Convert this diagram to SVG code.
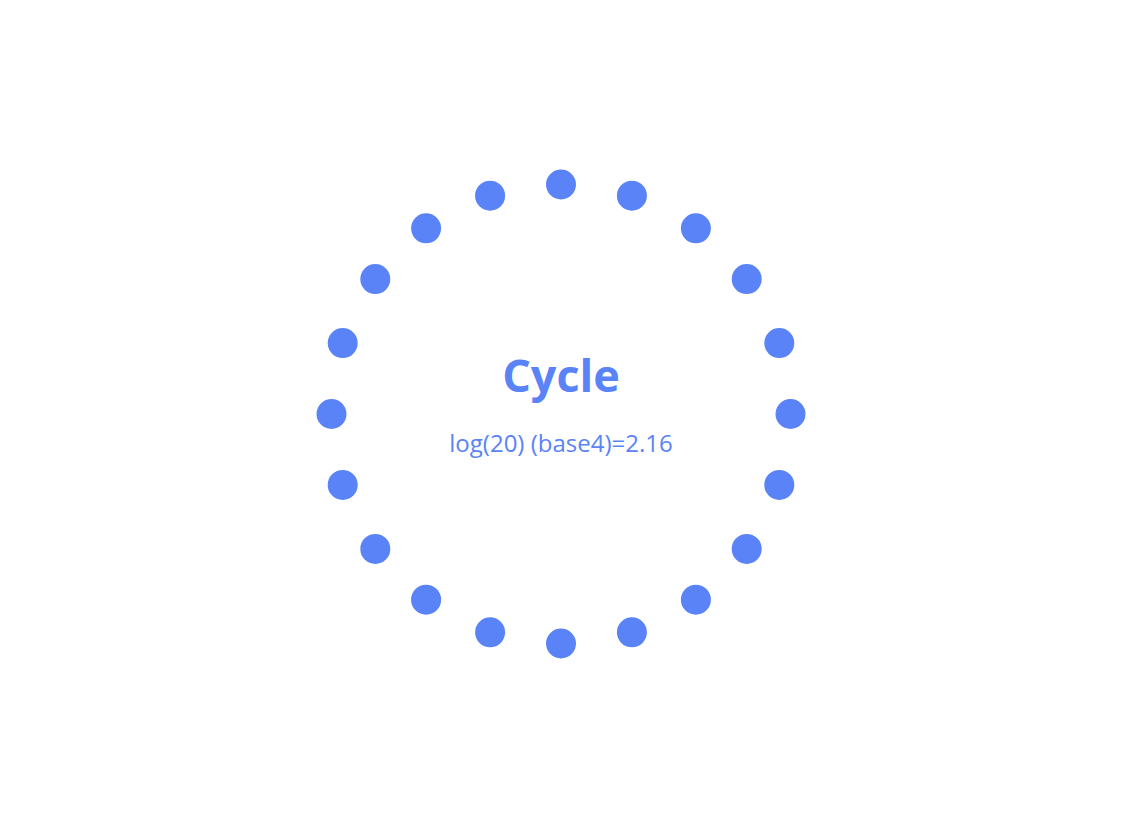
<svg xmlns="http://www.w3.org/2000/svg" width="1122" height="830" viewBox="0 0 1122 830">
<style>
.dot{fill:#5a83f8}
.title{font-family:"Open Sans","Noto Sans",sans-serif;font-weight:700;font-size:45px;fill:#5a83f8;text-anchor:middle}
.sub{font-family:"Open Sans","Noto Sans",sans-serif;font-size:24px;fill:#5a83f8;text-anchor:middle}
</style>
<rect width="1122" height="830" fill="#ffffff"/>
<g id="nodes">
<circle id="n0" class="dot" cx="561" cy="184.5" r="15"/>
<circle id="n1" class="dot" cx="631.9" cy="195.7" r="15"/>
<circle id="n2" class="dot" cx="695.9" cy="228.3" r="15"/>
<circle id="n3" class="dot" cx="746.7" cy="279.1" r="15"/>
<circle id="n4" class="dot" cx="779.3" cy="343.1" r="15"/>
<circle id="n5" class="dot" cx="790.5" cy="414" r="15"/>
<circle id="n6" class="dot" cx="779.3" cy="484.9" r="15"/>
<circle id="n7" class="dot" cx="746.7" cy="548.9" r="15"/>
<circle id="n8" class="dot" cx="695.9" cy="599.7" r="15"/>
<circle id="n9" class="dot" cx="631.9" cy="632.3" r="15"/>
<circle id="n10" class="dot" cx="561" cy="643.5" r="15"/>
<circle id="n11" class="dot" cx="490.1" cy="632.3" r="15"/>
<circle id="n12" class="dot" cx="426.1" cy="599.7" r="15"/>
<circle id="n13" class="dot" cx="375.3" cy="548.9" r="15"/>
<circle id="n14" class="dot" cx="342.7" cy="484.9" r="15"/>
<circle id="n15" class="dot" cx="331.5" cy="414" r="15"/>
<circle id="n16" class="dot" cx="342.7" cy="343.1" r="15"/>
<circle id="n17" class="dot" cx="375.3" cy="279.1" r="15"/>
<circle id="n18" class="dot" cx="426.1" cy="228.3" r="15"/>
<circle id="n19" class="dot" cx="490.1" cy="195.7" r="15"/>
</g>
<g id="connectors"></g>
<g id="label">
<text class="title" x="561" y="392">Cycle</text>
<text class="sub" x="561" y="452">log(20) (base4)=2.16</text>
</g>
</svg>
